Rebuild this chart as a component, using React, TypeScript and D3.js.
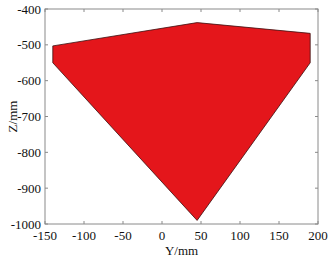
import React, { useEffect, useRef } from 'react';
import * as d3 from 'd3';

// polygon outline (Y, Z) in mm
const polyY = [-140, 45, 190, 190, 45, -140];
const polyZ = [-503, -438, -468, -550, -990, -550];

const xTicks = [-150, -100, -50, 0, 50, 100, 150, 200];
const yTicks = [-400, -500, -600, -700, -800, -900, -1000];

const App: React.FC = () => {
  const svgRef = useRef<SVGSVGElement>(null);

  useEffect(() => {
    if (!svgRef.current) return;
    const svg = d3.select(svgRef.current);
    svg.selectAll('*').remove();

    const width = 330;
    const height = 261;
    const margin = { top: 9, right: 12, bottom: 37, left: 45 };
    const innerWidth = width - margin.left - margin.right;
    const innerHeight = height - margin.top - margin.bottom;
    const font = '"Liberation Serif", "Times New Roman", serif';

    const x = d3.scaleLinear().domain([-150, 200]).range([0, innerWidth]);
    const y = d3.scaleLinear().domain([-1000, -400]).range([innerHeight, 0]);

    const g = svg.append('g')
      .attr('transform', `translate(${margin.left},${margin.top})`);

    // filled shape
    const pts: [number, number][] = polyY.map((v, i) => [x(v), y(polyZ[i])]);
    g.append('path')
      .attr('d', d3.line()(pts) + 'Z')
      .attr('fill', '#e4161b')
      .attr('stroke', '#3a1010')
      .attr('stroke-width', 0.8);

    // box
    g.append('rect')
      .attr('width', innerWidth)
      .attr('height', innerHeight)
      .attr('fill', 'none')
      .attr('stroke', '#8a8a8a')
      .attr('stroke-width', 1);

    const tickLen = 3;
    // ticks on bottom and top
    xTicks.forEach(t => {
      g.append('line')
        .attr('x1', x(t)).attr('x2', x(t))
        .attr('y1', innerHeight).attr('y2', innerHeight - tickLen)
        .attr('stroke', '#8a8a8a');
      g.append('line')
        .attr('x1', x(t)).attr('x2', x(t))
        .attr('y1', 0).attr('y2', tickLen)
        .attr('stroke', '#8a8a8a');
      g.append('text')
        .attr('x', x(t))
        .attr('y', innerHeight + 16)
        .attr('text-anchor', 'middle')
        .style('font-family', font)
        .style('font-size', '13px')
        .style('fill', '#111')
        .text(t);
    });

    // ticks on left and right
    yTicks.forEach(t => {
      g.append('line')
        .attr('x1', 0).attr('x2', tickLen)
        .attr('y1', y(t)).attr('y2', y(t))
        .attr('stroke', '#8a8a8a');
      g.append('line')
        .attr('x1', innerWidth).attr('x2', innerWidth - tickLen)
        .attr('y1', y(t)).attr('y2', y(t))
        .attr('stroke', '#8a8a8a');
      g.append('text')
        .attr('x', -4)
        .attr('y', y(t))
        .attr('dy', '0.35em')
        .attr('text-anchor', 'end')
        .style('font-family', font)
        .style('font-size', '13px')
        .style('fill', '#111')
        .text(t);
    });

    // axis labels
    g.append('text')
      .attr('x', innerWidth / 2)
      .attr('y', innerHeight + 31)
      .attr('text-anchor', 'middle')
      .style('font-family', font)
      .style('font-size', '13px')
      .style('fill', '#111')
      .text('Y/mm');

    g.append('text')
      .attr('transform', `translate(${-margin.left + 12},${innerHeight / 2}) rotate(-90)`)
      .attr('text-anchor', 'middle')
      .attr('dy', '0.35em')
      .style('font-family', font)
      .style('font-size', '13px')
      .style('fill', '#111')
      .text('Z/mm');
  }, []);

  return (
    <svg
      ref={svgRef}
      width={330}
      height={261}
      style={{ position: 'absolute', left: 0, top: 0, background: '#fff' }}
    />
  );
};

export default App;
